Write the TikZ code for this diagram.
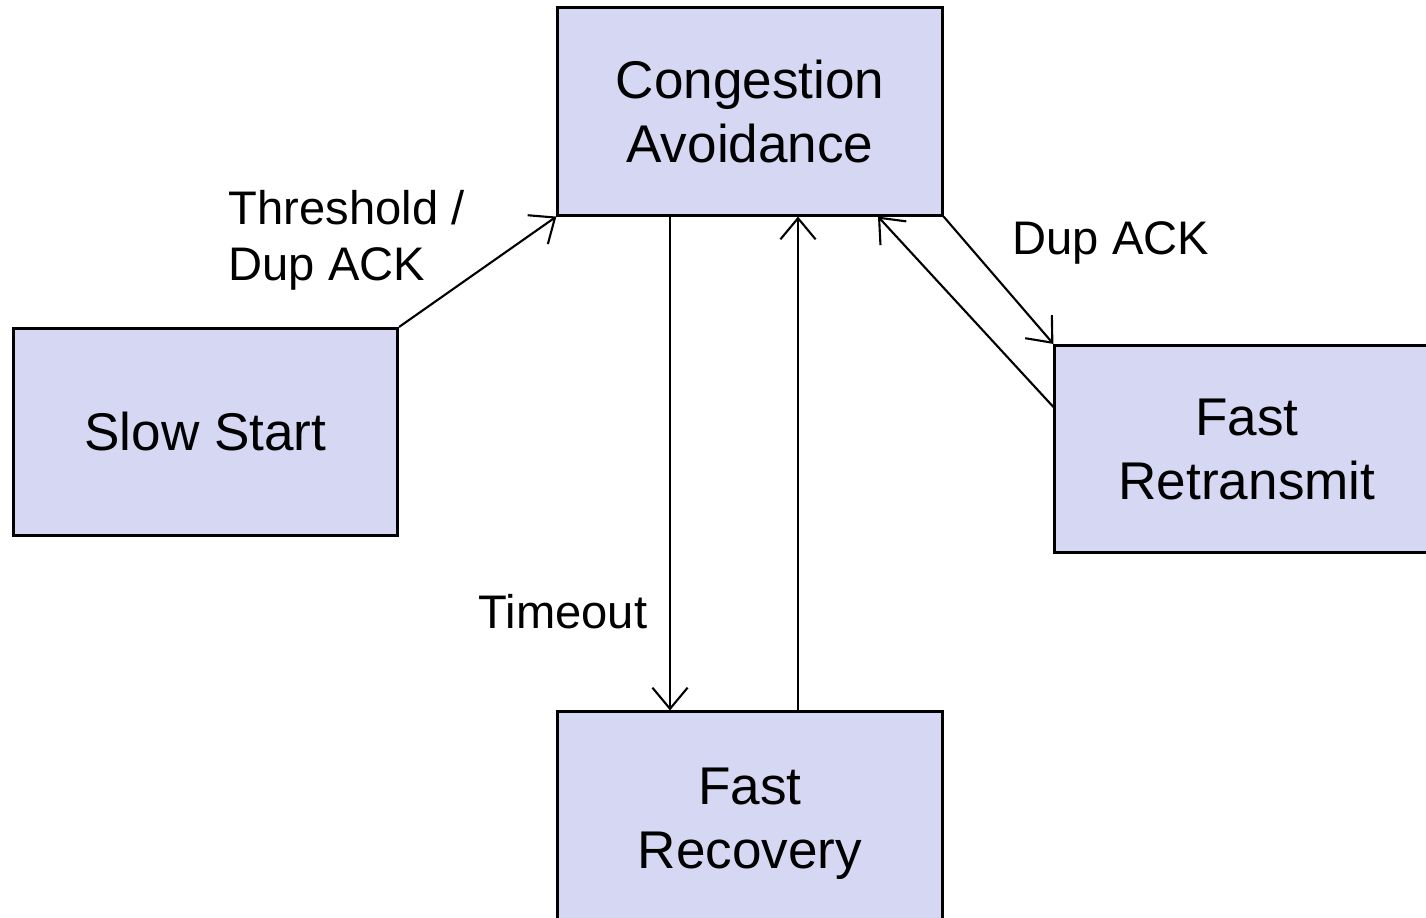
\documentclass[tikz,border=0pt]{standalone}
\usepackage{fontspec}
\setmainfont{Liberation Sans}
\usetikzlibrary{arrows.meta}
\definecolor{boxfill}{RGB}{214,215,243}
\begin{document}
\begin{tikzpicture}[x=0.01cm,y=-0.01cm,
  state/.style={draw=black,fill=boxfill,line width=0.85pt,minimum width=3.84cm,minimum height=2.07cm,align=center,inner sep=0pt,font=\fontsize{15.1pt}{18.2pt}\selectfont},
  conn/.style={line width=0.6pt,->,>={Straight Barb[length=6pt,width=10pt]}},
  lbl/.style={font=\fontsize{13.4pt}{16pt}\selectfont,align=left,inner sep=0pt}]
\useasboundingbox (0,0) rectangle (1426,918);
\node[state] (ca) at (750,111.5) {Congestion\\Avoidance};
\node[state] (ss) at (205.5,432) {Slow Start};
\node[state] (frt) at (1247,449) {Fast\\Retransmit};
\node[state,minimum height=2.24cm] (frc) at (750,824) {Fast\\Recovery};
\draw[conn] (ss.north east) -- (ca.south west);
\draw[conn] (ca.south west -| 670,0) -- (frc.north west -| 670,0);
\draw[conn] (frc.north west -| 798,0) -- (ca.south west -| 798,0);
\draw[conn] (ca.south east) -- (frt.north west);
\draw[conn] (frt.west |- 0,407) -- (ca.south west -| 878,0);
\node[lbl,anchor=west] (l1) at (228,240) {Threshold /\\Dup ACK};
\node[lbl,anchor=west] (l2) at (1012,243) {Dup ACK};
\node[lbl,anchor=west] (l3) at (478,612) {Timeout};
\end{tikzpicture}
\end{document}
